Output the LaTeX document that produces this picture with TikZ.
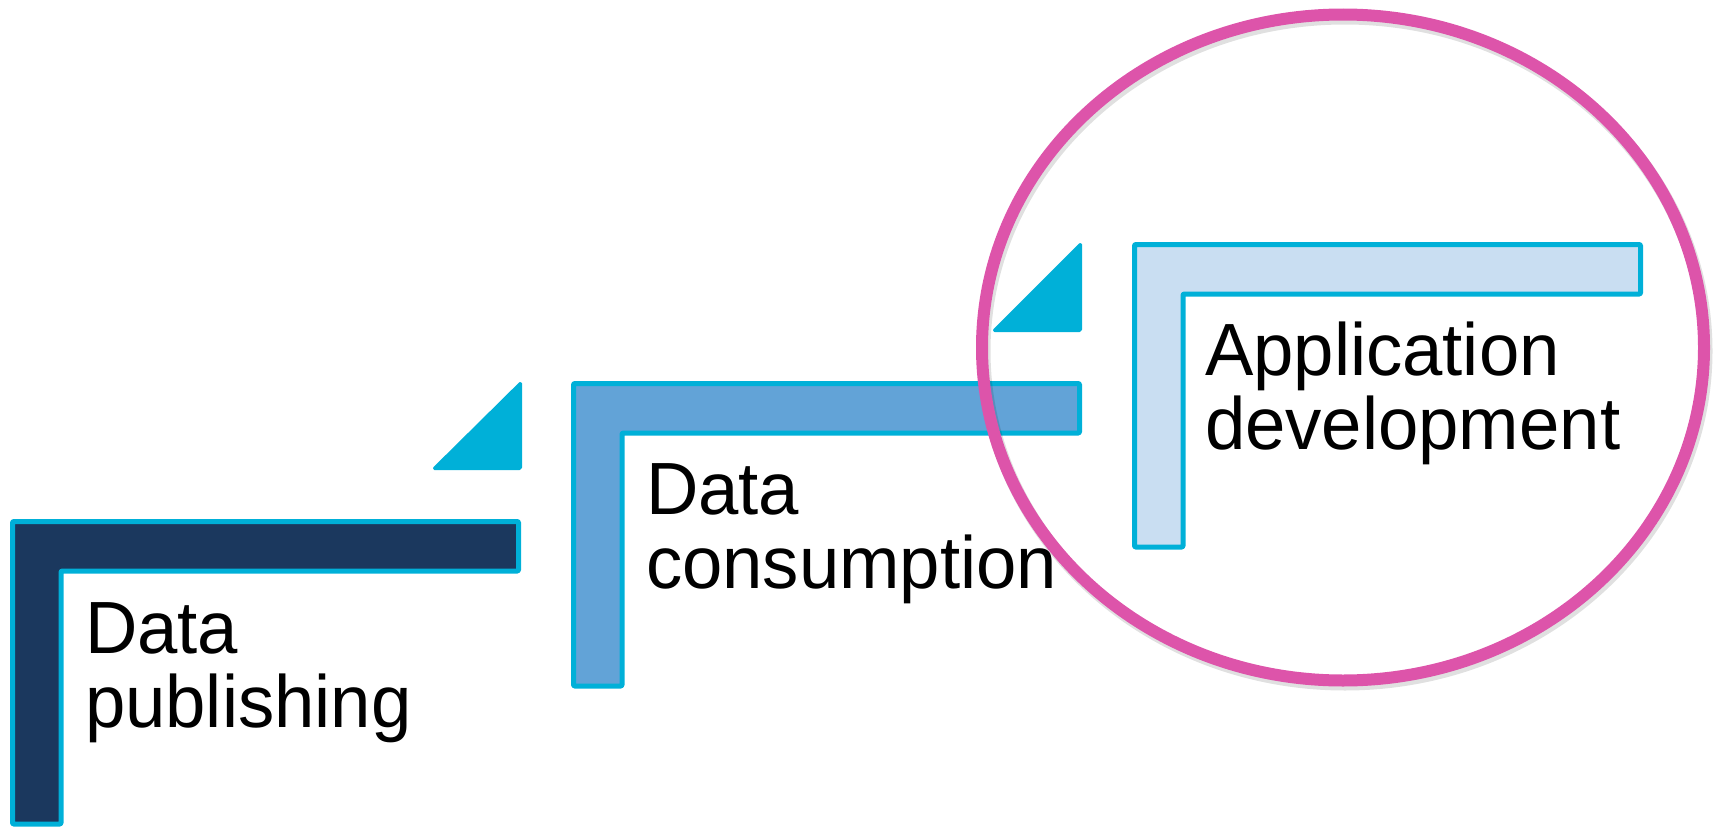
\documentclass[tikz,border=0pt]{standalone}
\usepackage{fontspec}
\setmainfont[FakeStretch=0.98]{Liberation Sans}
\definecolor{edgecyan}{RGB}{0,176,216}
\definecolor{navyfill}{RGB}{27,56,94}
\definecolor{midfill}{RGB}{98,163,215}
\definecolor{lightfill}{RGB}{201,222,242}
\definecolor{ringpink}{RGB}{221,84,170}
\tikzset{
  lshape/.style={draw=edgecyan, line width=5pt, line join=round, rounded corners=1pt},
  tri/.style={fill=edgecyan, draw=edgecyan, line width=2pt, line join=round, rounded corners=1.5pt},
  steplabel/.style={anchor=base west, inner sep=0pt, outer sep=0pt, text=black,
    font=\fontsize{74pt}{74pt}\selectfont},
  ring/.style={draw=ringpink, line width=12pt},
  ringshadow/.style={draw=black, opacity=0.12, line width=13pt}
}
\newcommand{\lpath}[2]{%
  (#1+2.5,#2+2.5) -- (#1+508.5,#2+2.5) -- (#1+508.5,#2+52) -- (#1+51,#2+52)
  -- (#1+51,#2+305) -- (#1+2.5,#2+305) -- cycle}
\begin{document}
\begin{tikzpicture}[x=1pt,y=-1pt]
\useasboundingbox (0,0) rectangle (1717,827);
% step 1
\draw[lshape, fill=navyfill] \lpath{10}{519};
\draw[tri] (433,469) -- (521,382) -- (521,469) -- cycle;
\node[steplabel] (pub) at (85,653) {\vtop{\hbox{Data}\hbox{publishing}}};
% step 2
\draw[lshape, fill=midfill] \lpath{571}{381};
\draw[tri] (993,331) -- (1081,243) -- (1081,331) -- cycle;
\node[steplabel] (cons) at (646,514) {\vtop{\hbox{Data}\hbox{consumption}}};
% step 3
\draw[lshape, fill=lightfill] \lpath{1132}{242};
\node[steplabel] (app) at (1205,375) {\vtop{\hbox{Application}\hbox{development}}};
% highlight ring
\draw[ringshadow] (1345,351) ellipse [x radius=361, y radius=333];
\draw[ring] (1343,347.5) ellipse [x radius=361, y radius=333];
\end{tikzpicture}
\end{document}
